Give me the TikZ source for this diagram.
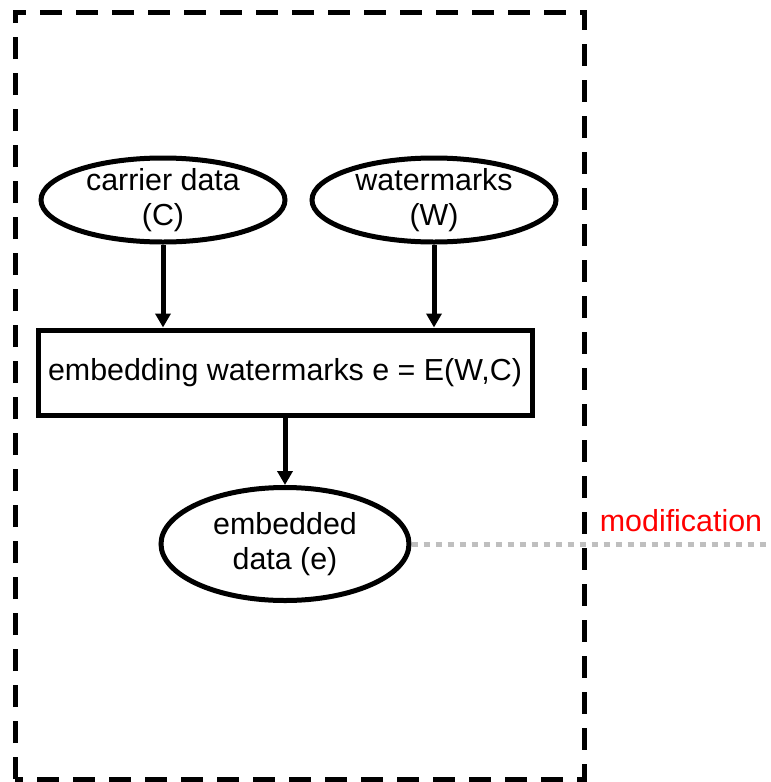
\documentclass[tikz,border=0pt]{standalone}
\usepackage{fontspec}
\setmainfont{Liberation Sans}
\usetikzlibrary{%
    arrows.meta,
    positioning,
    shapes.geometric
}
\tikzset{headarrow/.style = {-{Triangle[length=7pt,width=7.5pt]}, line width=2.5pt}}
\tikzset{databox/.style = {draw, ellipse, line width=2.5pt, align=center,
    inner xsep=0pt, inner ysep=-2pt, minimum width=122pt, minimum height=42pt}}
\tikzset{stepbox/.style = {draw, rectangle, line width=2.5pt, align=center,
    minimum width=247pt, minimum height=42.5pt}}

\begin{document}
\begin{tikzpicture}[x=0.5pt,y=-0.5pt,font=\fontsize{15.2pt}{17.5pt}\selectfont]
    \useasboundingbox (0,0) rectangle (771,782);
    \draw[line width=2.5pt, dash pattern=on 11pt off 7pt] (15,779) -- (15,12) -- (584,12) -- (584,779) -- cycle;

    \node (C) [databox] at (163,200) {carrier data\\(C)};
    \node (W) [databox] at (434,200) {watermarks\\(W)};
    \node (E) [stepbox] at (285,372.5) {embedding watermarks e = E(W,C)};
    \node (e) [databox, minimum width=124pt, minimum height=56.5pt] at (285,544) {embedded\\data (e)};
    \node (mod) [text=red] at (681,521) {modification};
    \coordinate (out) at (771,544);

    \draw[headarrow] (C) -- (C |- E.north);
    \draw[headarrow] (W) -- (W |- E.north);
    \draw[headarrow] (E) -- (e);
    \draw[line width=2.5pt, color=gray!50, dash pattern=on 3pt off 3pt] (e.east) -- (out);
\end{tikzpicture}
\end{document}
